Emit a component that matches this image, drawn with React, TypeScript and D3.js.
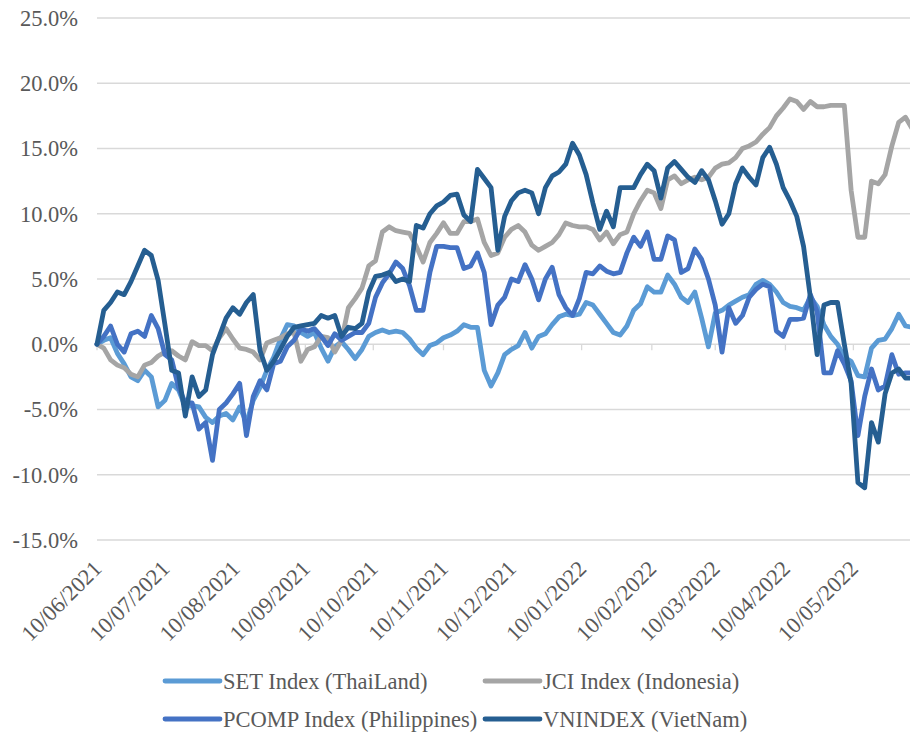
import React from 'react';
import * as d3 from 'd3';

// one point every three calendar days, 10 Jun 2021 onwards
const dates = [
  '2021-06-10', '2021-06-13', '2021-06-16', '2021-06-19', '2021-06-22', '2021-06-25', '2021-06-28',
  '2021-07-01', '2021-07-04', '2021-07-07', '2021-07-10', '2021-07-13', '2021-07-16', '2021-07-19', '2021-07-22', '2021-07-25', '2021-07-28', '2021-07-31',
  '2021-08-03', '2021-08-06', '2021-08-09', '2021-08-12', '2021-08-15', '2021-08-18', '2021-08-21', '2021-08-24', '2021-08-27', '2021-08-30',
  '2021-09-02', '2021-09-05', '2021-09-08', '2021-09-11', '2021-09-14', '2021-09-17', '2021-09-20', '2021-09-23', '2021-09-26', '2021-09-29',
  '2021-10-02', '2021-10-05', '2021-10-08', '2021-10-11', '2021-10-14', '2021-10-17', '2021-10-20', '2021-10-23', '2021-10-26', '2021-10-29',
  '2021-11-01', '2021-11-04', '2021-11-07', '2021-11-10', '2021-11-13', '2021-11-16', '2021-11-19', '2021-11-22', '2021-11-25', '2021-11-28',
  '2021-12-01', '2021-12-04', '2021-12-07', '2021-12-10', '2021-12-13', '2021-12-16', '2021-12-19', '2021-12-22', '2021-12-25', '2021-12-28', '2021-12-31',
  '2022-01-03', '2022-01-06', '2022-01-09', '2022-01-12', '2022-01-15', '2022-01-18', '2022-01-21', '2022-01-24', '2022-01-27', '2022-01-30',
  '2022-02-02', '2022-02-05', '2022-02-08', '2022-02-11', '2022-02-14', '2022-02-17', '2022-02-20', '2022-02-23', '2022-02-26',
  '2022-03-01', '2022-03-04', '2022-03-07', '2022-03-10', '2022-03-13', '2022-03-16', '2022-03-19', '2022-03-22', '2022-03-25', '2022-03-28', '2022-03-31',
  '2022-04-03', '2022-04-06', '2022-04-09', '2022-04-12', '2022-04-15', '2022-04-18', '2022-04-21', '2022-04-24', '2022-04-27', '2022-04-30',
  '2022-05-03', '2022-05-06', '2022-05-09', '2022-05-12', '2022-05-15', '2022-05-18', '2022-05-21', '2022-05-24', '2022-05-27', '2022-05-30',
  '2022-06-02', '2022-06-05'
];

// cumulative return, %
const setThai = [
  0.0, 0.3, 0.5, -0.7, -1.5, -2.5, -2.8, -2.0, -2.5, -4.8,
  -4.3, -3.0, -3.5, -4.8, -4.7, -4.8, -5.6, -6.0, -5.5, -5.3,
  -5.8, -4.8, -6.0, -4.3, -3.3, -2.0, -1.0, 0.4, 1.5, 1.4,
  0.9, 0.6, 0.9, -0.3, -1.3, -0.2, 0.2, -0.4, -1.1, -0.4,
  0.6, 0.9, 1.1, 0.9, 1.0, 0.9, 0.4, -0.3, -0.8, -0.1,
  0.1, 0.5, 0.7, 1.0, 1.5, 1.3, 1.3, -2.0, -3.2, -2.2,
  -0.8, -0.4, -0.1, 0.9, -0.3, 0.6, 0.8, 1.5, 2.1, 2.3,
  2.2, 2.3, 3.2, 3.0, 2.3, 1.6, 0.9, 0.7, 1.4, 2.6,
  3.1, 4.4, 4.0, 4.0, 5.3, 4.6, 3.6, 3.2, 4.0, 2.0,
  -0.2, 2.4, 2.6, 3.0, 3.3, 3.6, 3.8, 4.6, 4.9, 4.6,
  4.0, 3.2, 2.9, 2.8, 2.6, 3.6, 2.9, 1.5, 0.6, 0.0,
  -1.0, -1.3, -2.4, -2.5, -0.3, 0.3, 0.4, 1.2, 2.3, 1.4, 1.3
];

const jciIndo = [
  0.0, -0.3, -1.2, -1.6, -1.8, -2.3, -2.5, -1.6, -1.4, -0.9,
  -0.6, -0.5, -0.9, -1.2, 0.2, -0.1, -0.1, -0.5, 0.5, 1.2,
  0.4, -0.3, -0.4, -0.6, -1.2, 0.1, 0.3, 0.5, 0.8, 0.9,
  -1.3, -0.4, -0.2, 0.6, 0.5, -0.6, 0.3, 2.8, 3.5, 4.3,
  6.0, 6.4, 8.6, 9.0, 8.7, 8.6, 8.5, 7.5, 6.3, 7.8,
  8.5, 9.3, 8.5, 8.5, 9.4, 9.4, 9.6, 7.8, 6.8, 7.0,
  8.2, 8.8, 9.1, 8.6, 7.6, 7.2, 7.5, 7.8, 8.4, 9.3,
  9.1, 9.0, 9.0, 8.8, 8.0, 8.6, 7.7, 8.4, 8.6, 10.0,
  11.0, 11.8, 11.6, 10.4, 12.6, 12.9, 12.3, 12.6, 12.8, 12.6,
  12.8, 13.5, 13.8, 13.9, 14.3, 15.0, 15.2, 15.5, 16.1, 16.6,
  17.5, 18.1, 18.8, 18.6, 18.0, 18.6, 18.2, 18.2, 18.3, 18.3,
  18.3, 11.8, 8.2, 8.2, 12.5, 12.3, 13.0, 15.2, 17.0, 17.4, 16.5
];

const pcompPhil = [
  0.0, 0.6, 1.4, 0.0, -0.6, 0.8, 1.0, 0.6, 2.2, 1.2,
  -0.8, -1.2, -3.3, -4.5, -4.5, -6.5, -6.0, -8.9, -5.0, -4.5,
  -3.8, -3.0, -7.0, -4.0, -2.8, -3.5, -1.5, -1.3, -0.2, 0.3,
  1.2, 1.0, 1.2, 0.6, -0.1, 0.8, 0.3, 0.6, 0.9, 0.9,
  1.6, 3.6, 4.7, 5.4, 6.3, 5.8, 4.5, 2.6, 2.6, 5.5,
  7.5, 7.5, 7.4, 7.4, 5.8, 6.0, 7.0, 5.5, 1.5, 3.0,
  3.6, 5.0, 4.8, 6.1, 5.0, 3.4, 5.0, 5.9, 3.8, 2.8,
  2.2, 3.5, 5.5, 5.4, 6.0, 5.6, 5.4, 5.5, 7.0, 8.2,
  7.5, 8.6, 6.5, 6.5, 8.3, 8.0, 5.5, 5.8, 7.3, 6.5,
  5.0, 3.0, -0.6, 2.8, 1.6, 2.2, 3.6, 4.2, 4.6, 4.4,
  1.0, 0.6, 1.9, 1.9, 2.0, 3.8, 2.5, -2.2, -2.2, -0.5,
  -1.5, -2.8, -7.0, -4.0, -1.9, -3.5, -3.2, -0.8, -2.3, -2.2, -2.2
];

const vnIndex = [
  0.0, 2.6, 3.2, 4.0, 3.8, 4.8, 6.0, 7.2, 6.8, 4.9,
  1.5, -2.0, -2.2, -5.5, -2.5, -4.0, -3.5, -0.8, 0.6, 2.0,
  2.8, 2.3, 3.2, 3.8, -0.5, -2.0, -1.3, -0.4, 0.6, 1.3,
  1.4, 1.5, 1.6, 2.2, 2.0, 2.2, 0.6, 1.3, 1.2, 1.6,
  4.0, 5.2, 5.3, 5.5, 4.8, 5.0, 4.8, 9.1, 8.9, 10.0,
  10.6, 10.9, 11.4, 11.5, 9.9, 9.4, 13.4, 12.7, 12.0, 7.2,
  9.8, 11.0, 11.6, 11.8, 11.6, 10.0, 12.0, 12.9, 13.2, 13.8,
  15.4, 14.5, 13.0, 10.8, 8.8, 10.2, 9.0, 12.0, 12.0, 12.0,
  13.0, 13.8, 13.3, 11.2, 13.5, 14.0, 13.4, 12.8, 12.4, 13.3,
  12.6, 11.0, 9.2, 10.0, 12.3, 13.5, 12.8, 12.2, 14.3, 15.1,
  13.8, 12.0, 11.0, 9.8, 7.5, 3.6, -0.8, 3.0, 3.2, 3.2,
  0.0, -3.0, -10.6, -11.0, -6.0, -7.5, -3.8, -2.2, -1.9, -2.6, -2.6
];

const tickDates = [
  '2021-06-10', '2021-07-10', '2021-08-10', '2021-09-10', '2021-10-10', '2021-11-10',
  '2021-12-10', '2022-01-10', '2022-02-10', '2022-03-10', '2022-04-10', '2022-05-10'
];
const yTicks = [-15, -10, -5, 0, 5, 10, 15, 20, 25];

const seriesNames = ['SET Index (ThaiLand)', 'JCI Index (Indonesia)', 'PCOMP Index (Philippines)', 'VNINDEX (VietNam)'];
const seriesValues = [setThai, jciIndo, pcompPhil, vnIndex];
const seriesColors = ['#5B9BD5', '#A5A5A5', '#4472C4', '#255E91'];

const W = 910;
const H = 736;
const FONT = 'Liberation Serif';
const TEXT = '#595959';
const GRID = '#D9D9D9';

const parse = d3.utcParse('%Y-%m-%d');
const fmtTick = d3.utcFormat('%d/%m/%Y');

export default function App() {
  const x = d3.scaleUtc()
    .domain([parse('2021-06-10') as Date, parse('2022-06-04') as Date])
    .range([97, 910]);
  const y = d3.scaleLinear().domain([-15, 25]).range([540, 18]);

  const line = d3.line<number>()
    .x((_, i) => x(parse(dates[i]) as Date))
    .y(d => y(d));

  return (
    <div style={{ position: 'fixed', left: 0, top: 0, background: '#fff' }}>
      <svg width={W} height={H} style={{ display: 'block' }}>
        <defs>
          <clipPath id="plot">
            <rect x={90} y={0} width={W - 90} height={560} />
          </clipPath>
        </defs>

        {/* gridlines and y labels */}
        {yTicks.map(t => (
          <g key={t}>
            <line x1={97} x2={W} y1={y(t)} y2={y(t)} stroke={GRID} strokeWidth={1.3} />
            <text x={78} y={y(t)} dy="0.35em" textAnchor="end" fontFamily={FONT} fontSize={22.5} fill={TEXT}>
              {t.toFixed(1) + '%'}
            </text>
          </g>
        ))}

        {/* small tick marks on the zero line */}
        {tickDates.map(d => {
          const tx = x(parse(d) as Date);
          return <line key={'t' + d} x1={tx} x2={tx} y1={y(0)} y2={y(0) + 6} stroke={GRID} strokeWidth={1.3} />;
        })}

        {/* series, VN on top */}
        <g clipPath="url(#plot)">
          {seriesValues.map((vals, k) => (
            <path key={k} d={line(vals) || ''} fill="none" stroke={seriesColors[k]}
              strokeWidth={4.8} strokeLinejoin="round" strokeLinecap="round" />
          ))}
        </g>

        {/* rotated date labels */}
        {tickDates.map(d => {
          const tx = x(parse(d) as Date);
          return (
            <text key={'l' + d} transform={`translate(${tx + 6},570) rotate(-45)`}
              textAnchor="end" fontFamily={FONT} fontSize={22.5} fill={TEXT}>
              {fmtTick(parse(d) as Date)}
            </text>
          );
        })}

        {/* legend */}
        {seriesNames.map((name, k) => {
          const lx = k % 2 === 0 ? 165 : 485;
          const ly = k < 2 ? 681 : 719;
          return (
            <g key={name}>
              <line x1={lx} x2={lx + 55} y1={ly} y2={ly} stroke={seriesColors[k]} strokeWidth={4.8} strokeLinecap="round" />
              <text x={lx + 58} y={ly} dy="0.35em" fontFamily={FONT} fontSize={22.5} fill={TEXT}>{name}</text>
            </g>
          );
        })}
      </svg>
    </div>
  );
}
